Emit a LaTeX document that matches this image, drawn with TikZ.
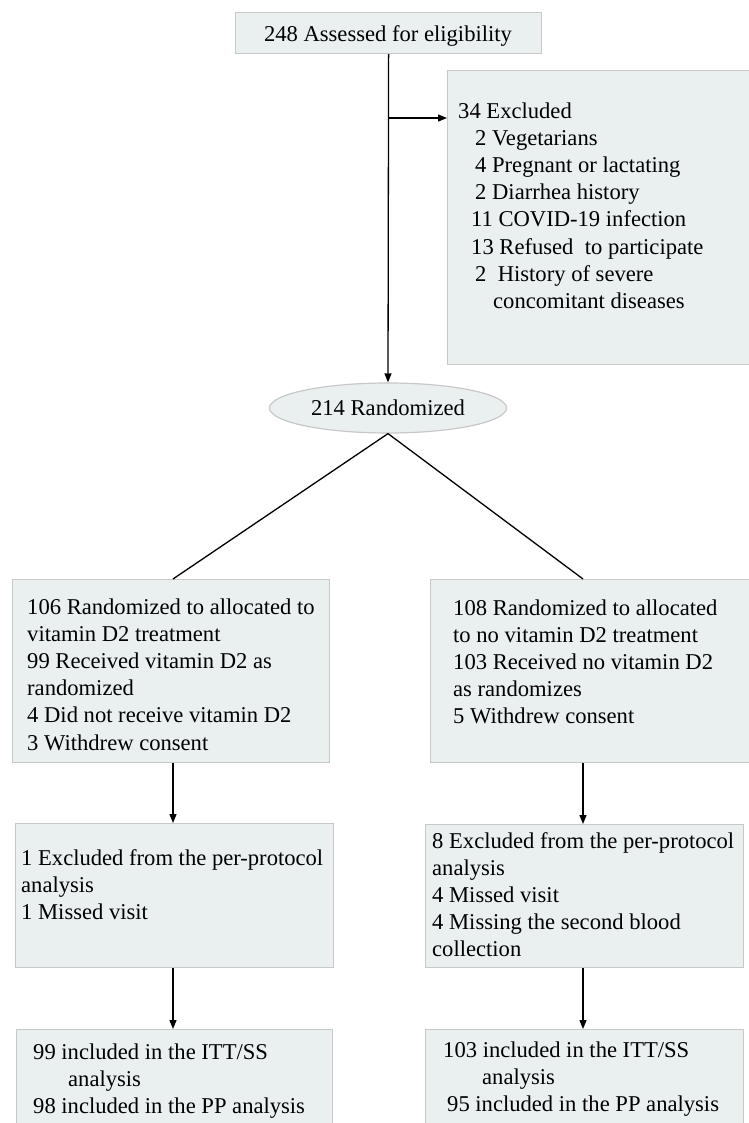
\documentclass[tikz,border=0pt]{standalone}
\usepackage{fontspec}
\setmainfont{Liberation Serif}
\usetikzlibrary{arrows.meta,shapes.geometric}
\definecolor{boxfill}{HTML}{EAEFF0}
\definecolor{boxline}{HTML}{C8C8C8}
\begin{document}
\begin{tikzpicture}[x=1pt,y=-1pt,
  box/.style={draw=boxline,line width=1.2pt,fill=boxfill,inner sep=0pt,anchor=north west},
  txt/.style={inner sep=0pt,anchor=base west,align=left,font=\fontsize{22.6}{27.2}\selectfont},
  conn/.style={line width=1.3pt,draw=black},
  arr/.style={conn,-{Triangle[length=9pt,width=7pt]}}]
\useasboundingbox[fill=white] (0,0) rectangle (748,1123);
% boxes
\node[box,minimum width=306pt,minimum height=41pt] (top) at (235,12) {};
\node[box,minimum width=310pt,minimum height=294pt] (exc) at (447,70) {};
\node[box,minimum width=317pt,minimum height=183pt] (l1) at (12,579) {};
\node[box,minimum width=330pt,minimum height=183pt] (r1) at (430,579) {};
\node[box,minimum width=318pt,minimum height=144pt] (l2) at (15,823) {};
\node[box,minimum width=318pt,minimum height=143pt] (r2) at (425,824) {};
\node[box,minimum width=316pt,minimum height=120pt] (l3) at (16,1029) {};
\node[box,minimum width=318pt,minimum height=120pt] (r3) at (425,1029) {};
\node[ellipse,draw=boxline,fill=boxfill,line width=1.2pt,minimum width=237pt,minimum height=50pt,inner sep=0pt,font=\fontsize{22.6}{27.2}\selectfont] (rand) at (388,408) {214 Randomized};
% texts (anchored at the baseline of their last line)
\node[txt,anchor=base] (ttop) at (388,42) {248 Assessed for eligibility};
\node[txt] (texc) at (458,308.4) {34 Excluded\\
\hspace*{17pt}2 Vegetarians\\
\hspace*{17pt}4 Pregnant or lactating\\
\hspace*{17pt}2 Diarrhea history\\
\hspace*{13pt}11 COVID-19 infection\\
\hspace*{13pt}13 Refused\ \ to participate\\
\hspace*{17pt}2\ \ History of severe\\
\hspace*{35pt}concomitant diseases};
\node[txt] (tl1) at (27,750) {106 Randomized to allocated to\\
vitamin D2 treatment\\
99 Received vitamin D2 as\\
randomized\\
4 Did not receive vitamin D2\\
3 Withdrew consent};
\node[txt] (tr1) at (453,723.8) {108 Randomized to allocated\\
to no vitamin D2 treatment\\
103 Received no vitamin D2\\
as randomizes\\
5 Withdrew consent};
\node[txt] (tl2) at (21,919.4) {1 Excluded from the per-protocol\\
analysis\\
1 Missed visit};
\node[txt] (tr2) at (432,956.8) {8 Excluded from the per-protocol\\
analysis\\
4 Missed visit\\
4 Missing the second blood\\
collection};
\node[txt] (tl3) at (33,1113.4) {99 included in the ITT/SS\\
\hspace*{35pt}analysis\\
98 included in the PP analysis};
\node[txt] (tr3) at (443,1111.4) {103 included in the ITT/SS\\
\hspace*{39pt}analysis\\
\hspace*{4pt}95 included in the PP analysis};
% connectors
\coordinate (br) at (389,118);
\coordinate (cL) at (173,0);
\coordinate (cR) at (583,0);
\draw[arr] (top.south) -- (rand.north);
\draw[arr] (top.south |- br) -- (exc.west |- br);
\draw[conn] (rand.south) -- (l1.north -| cL);
\draw[conn] (rand.south) -- (r1.north -| cR);
\draw[arr] (l1.south -| cL) -- (l2.north -| cL);
\draw[arr] (l2.south -| cL) -- (l3.north -| cL);
\draw[arr] (r1.south -| cR) -- (r2.north -| cR);
\draw[arr] (r2.south -| cR) -- (r3.north -| cR);
\end{tikzpicture}
\end{document}
